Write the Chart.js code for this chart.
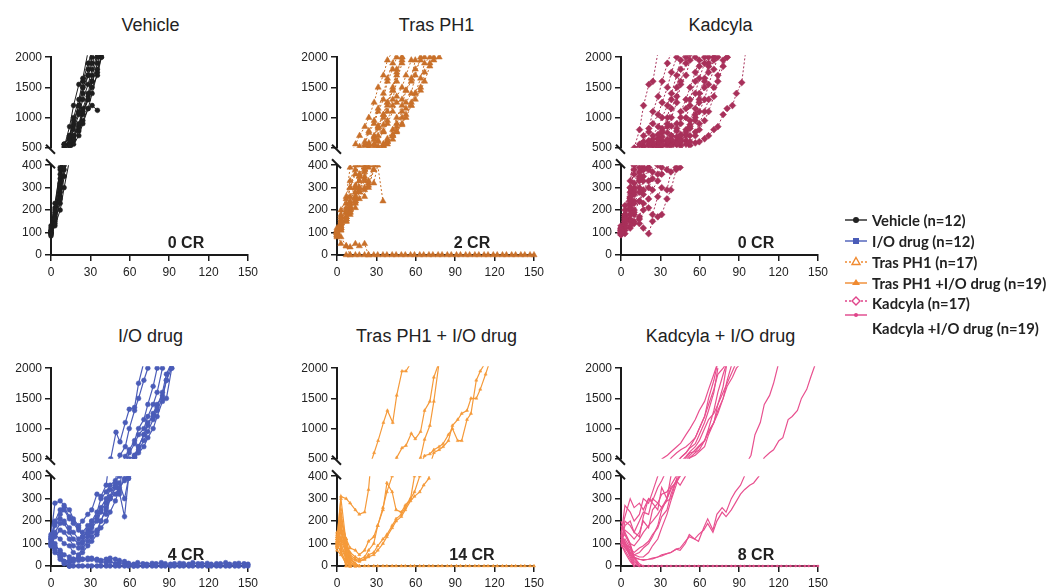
<!DOCTYPE html>
<html>
<head>
<meta charset="utf-8">
<script src="https://cdn.jsdelivr.net/npm/chart.js@4.4.0/dist/chart.umd.min.js"></script>
<style>
body{margin:0;width:1052px;height:588px;overflow:hidden;background:#fff;position:relative;font-family:"Liberation Sans",Arial,sans-serif}
canvas{position:absolute}
.title{position:absolute;width:199px;text-align:center;font-size:18px;color:#222;line-height:20px}
.cr{position:absolute;font-weight:bold;font-size:16px;color:#222;transform:translate(-50%,-50%);white-space:nowrap}
.leg{position:absolute;left:845px;font-family:Lato,sans-serif;font-weight:bold;font-size:14.8px;color:#222;white-space:nowrap}
.leg svg{position:absolute;left:0}
</style>
</head>
<body>
<script>
// measurement days (twice weekly)
const days=[0,3,7,10,14,17,21,24,28,31,35,38,42,45,49,52,56,59,63,66,70,73,77,80,84,87,91,94,98,101,105,108,112,115,119,122,126,129,133,136,140,143,147,150];

const vehicleMice=[
  [95,160,300,520,850,1200,1550,1650,2100],
  [110,200,360,560,700,1000,1300,1600,1900,2100],
  [100,170,320,500,620,800,1050,1300,1550,1800,2050],
  [85,140,250,380,540,700,900,1150,1400,1700,2000],
  [120,210,390,560,700,950,1200,1500,1700,1900,2100],
  [100,150,230,350,500,640,850,1100,1350,1600,1800,2000],
  [90,130,200,300,420,560,700,900,1150,1400,1750,2050],
  [105,180,300,460,560,700,880,1100,1300,1600,1900,2100],
  [130,230,380,560,680,900,1200,1500,1800,2100],
  [95,160,280,450,560,680,850,1050,1300,1500,1700,2000],
  [110,170,260,400,540,620,780,950,1150,1200,1120],
  [100,190,340,500,640,860,1100,1400,1700,2000]
];

const ioMice=[
  [130,100,60,20,0],
  [100,70,30,10,0],
  [90,60,40,20,25,30,35,30,28,35,30,25,30,35,30,25,20,10,0],
  [120,80,40,20,15,20,25,30,35,30,25,20,15,20,10,15,10,12,8,15,10,8,12,10,15,10,8,10,12,10,8,15,10,10,12,8,10,10,15,8,10,12,10,8],
  [140,280,290,270,250,210,180,200,230,250,320,310,360,500,940,780,1100,1320,1350,1750,2100],
  [120,200,250,260,220,190,160,150,180,200,220,260,300,340,360,560,700,1000,1300,1500,1800,2000],
  [100,150,190,200,170,150,120,130,150,180,210,250,280,310,370,320,540,650,800,1000,1150,1400,1700,2000],
  [110,180,210,190,150,120,100,110,140,170,200,240,230,300,350,370,300,390,560,700,900,1100,1200,1350,1600,1900,2100],
  [90,130,160,150,120,90,80,100,130,150,160,200,250,300,350,330,220,390,520,650,800,950,1150,1300,1500,1800,2000],
  [130,190,230,250,210,200,170,130,160,200,240,300,330,360,380,400,420,600,750,900,1000,1200,1400,1600,2000],
  [100,140,120,100,90,60,50,80,110,130,150,200,260,300,320,350,380,400,520,600,700,850,1000,1200,1450,1500,2000],
  [120,90,70,50,40,30,40,60,90,110,140,170,200,240,290,340,390,500,550,700,900,1050,1250,1400,1550,1800,2100]
];
const ioTail=[null,null,null,null,0,0,0,0,0,0,0,0,0,0,0,0,0,0,0,0,0,0,0,0,0,0,0,0,0,0,0,0,0,0,0,0,0,0,0,0,0,0,0,0];

const trasMice=[
  [100,180,260,390,560,700,850,1000,1250,1500,1700,1950,2100],
  [90,140,210,300,380,520,600,780,950,1150,1400,1650,1900,2100],
  [110,200,250,330,400,480,560,750,900,1100,1300,1600,1800,2000],
  [80,120,160,190,240,330,390,550,640,820,1000,1200,1450,1750,2000],
  [120,160,200,260,310,350,400,520,680,860,1050,1250,1500,1800,1950,2100],
  [100,130,170,220,280,330,380,470,560,700,880,1100,1300,1600,1900],
  [95,150,190,240,300,350,370,470,520,600,780,950,1200,1350,1500,1700,1950],
  [105,170,230,300,360,400,530,580,700,850,1050,1250,1450,1700,2000],
  [85,110,160,200,260,300,260,330,400,500,560,650,800,1000,1200,1450,1650,1950],
  [100,120,150,190,230,280,330,300,380,450,530,600,700,900,1100,1250,1400,1700,2000],
  [90,120,170,210,240,280,300,310,320,400,240],
  [100,140,190,230,300,360,420,500,560,620,760,900,1100,1250,1300,1450,1600,1800,1950,2000,2100],
  [90,110,150,180,210,250,290,320,380,450,520,560,640,760,880,1000,1200,1400,1650,1900,2000],
  [110,130,170,210,260,300,350,400,460,520,560,600,700,780,900,1050,1200,1300,1450,1600,1850,1950,2000,2100],
  [100,120,160,200,250,290,340,390,440,500,540,620,720,850,1000,1150,1250,1400,1500,1750,1900,2000],
  [100,50,40,35,50,40,50,0],
  [110,80,40,0]
];
const trasTail=[null,null,0,0,0,0,0,0,0,0,0,0,0,0,0,0,0,0,0,0,0,0,0,0,0,0,0,0,0,0,0,0,0,0,0,0,0,0,0,0,0,0,0,0];

const kadMice=[
  [100,160,300,500,800,1200,1550,1600,2100],
  [110,180,330,480,560,700,820,1100,1350,1600,1900,2100],
  [95,150,260,400,520,600,760,900,1050,1250,1500,1750,2000],
  [120,200,280,360,450,530,620,700,850,1000,1200,1400,1700,1950,2100],
  [100,170,240,320,390,480,560,640,720,820,1000,1300,1500,1800,2000],
  [90,140,210,290,370,420,520,580,660,780,900,1150,1350,1600,1900,2050],
  [130,220,300,380,450,520,600,560,650,750,850,1000,1250,1550,1700,1950,2000],
  [105,160,220,270,340,380,450,540,600,680,750,860,900,1100,1300,1500,1750,1950],
  [100,130,180,230,280,330,380,460,520,560,640,700,820,1000,1150,1300,1600,1850,2000],
  [115,180,250,300,350,390,420,500,560,620,600,700,780,900,1000,1200,1400,1650,1900,2000],
  [95,120,160,190,240,270,300,340,360,390,430,520,580,620,720,850,1000,1250,1500,1750,1950],
  [110,150,200,240,300,350,390,450,510,550,600,640,560,650,760,880,1050,1300,1600,1900,2000],
  [100,120,150,180,140,200,250,290,330,360,380,420,550,600,700,820,950,1100,1300,1550,1800,2000],
  [90,110,130,150,170,230,210,180,260,300,290,370,390,480,560,600,700,800,950,1100,1350,1600,1850,2000],
  [100,95,120,140,160,120,95,150,170,180,250,290,380,390,450,540,580,600,650,700,800,850,1050,1150,1200,1400,1580,2100],
  [100,140,180,200,240,290,330,370,400,460,520,560,620,540,620,700,760,900,1100,1300,1500,1700,1950,2000],
  [120,170,230,280,330,380,390,450,500,530,560,600,680,720,800,950,1150,1400,1650,1850,2000]
];

const trasIoMice=[
  [120,310,300,280,250,230,240,340,600,800,1100,1300,1100,1550,1950,1950,2100],
  [100,220,120,80,70,50,70,110,130,180,250,370,330,250,240,270,300,400,520,820,1050,1450,2100],
  [130,180,100,60,40,30,40,70,100,180,260,330,400,520,680,720,920,830,950,1300,1450,1850,2100],
  [110,150,90,50,30,25,30,50,60,90,120,140,180,210,230,260,300,330,400,550,580,650,700,750,900,1000,800,800,1150,1250,1800,1950,2100],
  [90,120,70,40,25,20,30,40,50,70,100,130,170,200,220,250,290,310,330,360,390,600,650,700,800,1050,1150,1250,1300,1500,1500,1650,1900,2100],
  [100,250,60,0],
  [120,300,100,20,0],
  [80,180,40,0],
  [140,200,120,40,0],
  [110,150,80,10,0],
  [90,100,30,0],
  [130,90,50,0],
  [100,60,20,0],
  [150,110,60,20,0],
  [70,50,10,0],
  [95,130,70,30,10,0],
  [120,80,30,0],
  [85,70,0],
  [105,160,90,40,10,0]
];
const trasIoTail=[null,null,0,0,0,0,0,0,0,0,0,0,0,0,0,0,0,0,0,0,0,0,0,0,0,0,0,0,0,0,0,0,0,0,0,0,0,0,0,0,0,0,0,0];

const kadIoMice=[
  [130,270,240,200,230,300,280,330,400,500,560,620,700,760,900,1000,1150,1300,1450,1650,1900,2100],
  [150,220,300,260,280,250,300,290,350,380,430,520,600,650,700,760,850,1000,1200,1500,1800,2100],
  [110,180,200,150,200,240,230,300,280,320,330,360,400,520,600,680,750,900,1100,1300,1600,2000],
  [100,160,140,120,150,200,170,250,280,260,300,350,370,400,520,600,620,700,800,1000,1300,1600,1900,2100],
  [120,140,100,90,120,150,180,200,230,260,290,300,380,400,450,520,560,620,700,900,1100,1400,1700,2100],
  [90,120,80,60,80,90,110,140,170,220,250,320,380,360,400,520,600,650,800,950,1100,1250,1500,1800,2100],
  [140,100,70,50,60,80,100,130,180,250,300,340,380,450,540,620,700,800,1000,1150,1250,1400,1600,1750,1950,2100],
  [100,80,60,50,40,40,60,90,120,170,230,290,360,420,480,560,650,720,800,950,1100,1300,1500,1700,1850,2000,2100],
  [130,90,60,40,30,25,30,32,40,45,55,60,75,70,100,140,120,110,170,210,160,230,260,240,300,330,360,400,560,900,1100,1400,1550,1750,2100],
  [120,80,50,35,30,28,30,35,40,50,55,60,75,80,110,130,120,140,160,190,150,200,240,220,250,280,320,340,360,370,400,520,600,650,800,850,1150,1200,1300,1500,1650,1850,2100],
  [100,200,180,150,130,220,300,280,250,350,300,400,450,520,600,700,850,1000,1200,1400,1650,1900,2000,2100],
  [150,100,50,10,0],
  [120,90,40,0],
  [100,60,20,0],
  [180,140,90,30,0],
  [90,70,30,0],
  [110,100,80,40,10,0],
  [200,150,100,40,0],
  [130,110,60,20,0]
];
const kadIoTail=[null,null,null,0,0,0,0,0,0,0,0,0,0,0,0,0,0,0,0,0,0,0,0,0,0,0,0,0,0,0,0,0,0,0,0,0,0,0,0,0,0,0,0,0];

const upperTicks=[500,1000,1500,2000];
const lowerTicks=[0,100,200,300,400];
const xTicks=[0,30,60,90,120,150];

const panels=[
  {title:'Vehicle',cr:'0 CR',mice:vehicleMice,tail:null,row:0,ax:51,color:'#1e1e1e',dash:[],pt:'circle',r:2.4,w:1},
  {title:'Tras PH1',cr:'2 CR',mice:trasMice,tail:trasTail,row:0,ax:337,color:'#c8702a',dash:[2,2],pt:'triangle',r:3.6,w:1},
  {title:'Kadcyla',cr:'0 CR',mice:kadMice,tail:null,row:0,ax:621,color:'#a8305a',dash:[2,2],pt:'rectRot',r:3.4,w:1},
  {title:'I/O drug',cr:'4 CR',mice:ioMice,tail:ioTail,row:1,ax:51,color:'#4a5cb8',dash:[],pt:'circle',r:2.4,w:1.2},
  {title:'Tras PH1 + I/O drug',cr:'14 CR',mice:trasIoMice,tail:trasIoTail,row:1,ax:337,color:'#f59a3a',dash:[],pt:'triangle',r:1.8,w:1.2},
  {title:'Kadcyla + I/O drug',cr:'8 CR',mice:kadIoMice,tail:kadIoTail,row:1,ax:621,color:'#e8508f',dash:[],pt:'circle',r:0,w:1.2}
];

const tickFont={family:'"Liberation Sans", Arial, sans-serif',size:12};
const ink='#1a1a1a';

function toPoints(vals){return vals.map((v,i)=>({x:days[i],y:v}));}

const breakMarks={
  id:'breakMarks',
  afterDraw(chart,args,opts){
    const c=chart.ctx,a=chart.chartArea;
    c.save();c.strokeStyle=ink;c.lineWidth=2;c.beginPath();
    if(opts.part==='hi'){c.moveTo(a.left-5,a.bottom-3);c.lineTo(a.left+4,a.bottom+6);}
    else{c.moveTo(a.left-5,a.top-6);c.lineTo(a.left+4,a.top+3);}
    c.stroke();c.restore();
  }
};

function makePart(p,part){
  const off=p.row*311;
  const hi=part==='hi';
  const cv=document.createElement('canvas');
  const W=261,H=hi?111:126;
  cv.width=W;cv.height=H;
  cv.style.left=(p.ax-50)+'px';
  cv.style.top=((hi?47:155)+off)+'px';
  document.body.appendChild(cv);
  const clip=hi?{left:6,right:6,top:2,bottom:0}:{left:6,right:6,top:0,bottom:5};
  const sets=p.mice.map(m=>({
    data:toPoints(m),borderColor:p.color,backgroundColor:p.color,borderWidth:p.w,borderDash:p.dash,
    pointStyle:p.pt,pointRadius:p.r,pointBorderWidth:0.5,pointBorderColor:p.color,
    tension:0,clip:clip,spanGaps:false
  }));
  if(p.tail){
    sets.push({data:toPoints(p.tail),borderColor:p.color,backgroundColor:p.color,borderWidth:p.w,borderDash:p.dash,
      pointStyle:p.pt,pointRadius:p.r>0?p.r:1,pointBorderWidth:0.5,pointBorderColor:p.color,tension:0,clip:clip,spanGaps:false});
  }
  const axisGrid={display:true,drawOnChartArea:false,drawTicks:true,tickLength:6,color:ink,lineWidth:1.5};
  const xScale={type:'linear',min:0,max:150,display:!hi,
    afterBuildTicks:s=>{s.ticks=xTicks.map(v=>({value:v}));},
    ticks:{font:tickFont,color:'#222',padding:4,maxRotation:0,callback:v=>String(v)},
    grid:axisGrid,border:{display:true,color:ink,width:2}};
  if(!hi)xScale.afterFit=s=>{s.height=26;};
  new Chart(cv,{
    type:'line',
    data:{datasets:sets},
    options:{
      responsive:false,animation:false,devicePixelRatio:1,
      layout:{padding:{top:8,right:12,bottom:hi?10:0,left:0}},
      plugins:{legend:{display:false},tooltip:{enabled:false},breakMarks:{part:part}},
      scales:{
        x:xScale,
        y:{type:'linear',min:hi?500:0,max:hi?2000:400,
          afterFit:s=>{s.width=50;},
          afterBuildTicks:s=>{s.ticks=(hi?upperTicks:lowerTicks).map(v=>({value:v}));},
          ticks:{font:tickFont,color:'#222',padding:3,callback:v=>String(v)},
          grid:axisGrid,border:{display:true,color:ink,width:2}}
      }
    },
    plugins:[breakMarks]
  });
}

panels.forEach(p=>{
  const off=p.row*311;
  const t=document.createElement('div');
  t.className='title';t.textContent=p.title;
  t.style.left=p.ax+'px';t.style.top=(15+off)+'px';
  document.body.appendChild(t);
  makePart(p,'hi');
  makePart(p,'lo');
  const c=document.createElement('div');
  c.className='cr';c.textContent=p.cr;
  c.style.left=(p.ax+135)+'px';c.style.top=(243+off+(p.row?1:0))+'px';
  document.body.appendChild(c);
});

// legend
const legendItems=[
  {label:'Vehicle (n=12)',color:'#222',dash:'',mark:'circle',fill:true,y:220,sym:0},
  {label:'I/O drug (n=12)',color:'#4a5cb8',dash:'',mark:'square',fill:true,y:241,sym:0},
  {label:'Tras PH1 (n=17)',color:'#f08a30',dash:'2,2',mark:'triangle',fill:false,y:262,sym:0},
  {label:'Tras PH1 +I/O drug (n=19)',color:'#f08a30',dash:'',mark:'triangle',fill:true,y:283,sym:0},
  {label:'Kadcyla (n=17)',color:'#e0448a',dash:'2,2',mark:'diamond',fill:false,y:303,sym:-2},
  {label:'Kadcyla +I/O drug (n=19)',color:'#e0448a',dash:'',mark:'dot',fill:true,y:328,sym:-13}
];
legendItems.forEach(it=>{
  const d=document.createElement('div');
  d.className='leg';d.style.top=(it.y-10)+'px';
  const f=it.fill?it.color:'#fff';
  let m='';
  if(it.mark==='circle')m=`<circle cx="11" cy="10" r="3" fill="${f}"/>`;
  if(it.mark==='square')m=`<rect x="8" y="7" width="6" height="6" fill="${f}"/>`;
  if(it.mark==='triangle')m=it.fill?'<path d="M11 6L15 12L7 12Z" fill="'+f+'"/>':'<path d="M11 5.5L15 12.5L7 12.5Z" fill="#fff" stroke="'+it.color+'" stroke-width="1.4"/>';
  if(it.mark==='diamond')m='<path d="M11 6L15 10L11 14L7 10Z" fill="#fff" stroke="'+it.color+'" stroke-width="1.4"/>';
  if(it.mark==='dot')m=`<circle cx="11" cy="10" r="2" fill="${f}"/>`;
  const dashAttr=it.dash?`stroke-dasharray="${it.dash}"`:'';
  d.innerHTML=`<svg width="24" height="20" style="top:${it.sym}px"><line x1="0" y1="10" x2="22" y2="10" stroke="${it.color}" stroke-width="1.4" ${dashAttr}/>${m}</svg><span style="position:absolute;left:27px;top:0;line-height:20px">${it.label}</span>`;
  document.body.appendChild(d);
});
</script>
</body>
</html>
